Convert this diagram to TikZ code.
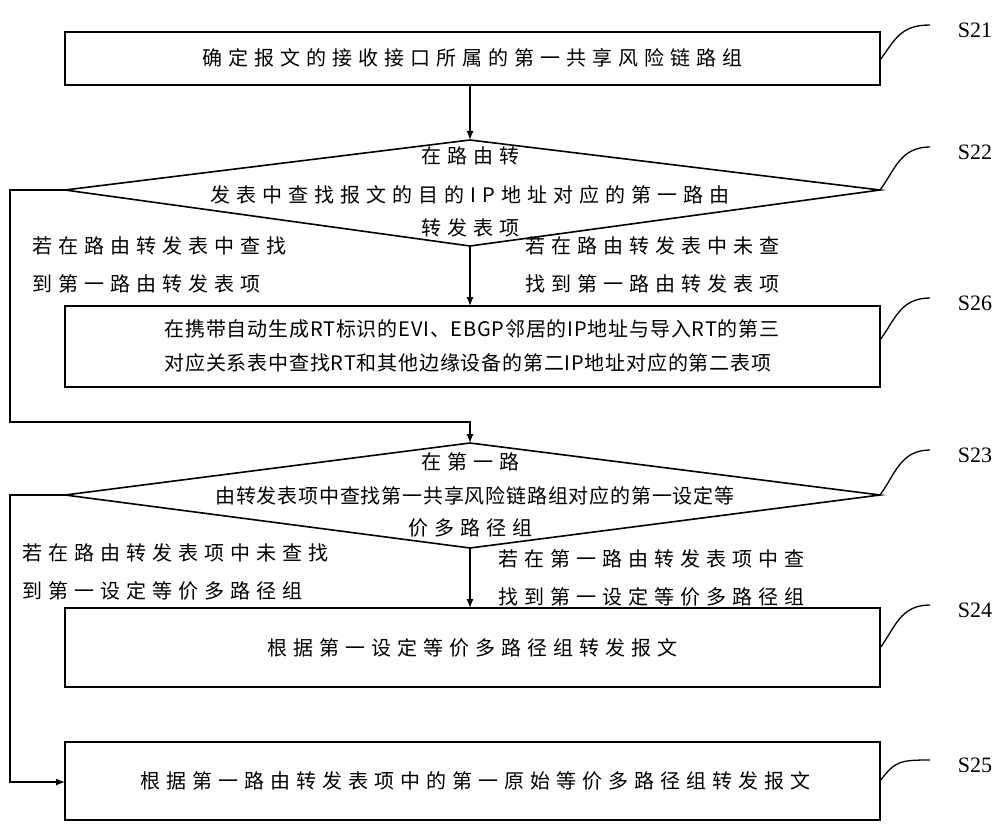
\documentclass[tikz,border=0pt]{standalone}
\usepackage{fontspec}
\usetikzlibrary{arrows.meta}
\setmainfont{Liberation Serif}
\newfontfamily\cjk[LetterSpace=30]{Noto Sans CJK SC}
\newfontfamily\cjkn[LetterSpace=4]{Noto Sans CJK SC}
\begin{document}
\begin{tikzpicture}[x=1pt,y=-1pt,line width=1.6pt,
  txt/.style={font=\cjk\fontsize{20}{38}\selectfont,inner sep=0pt},
  txtn/.style={font=\cjkn\fontsize{20}{34}\selectfont,inner sep=0pt},
  lab/.style={font=\fontsize{22}{24}\selectfont,inner sep=0pt},
  arr/.style={-{Latex[length=9pt,width=7pt]},line width=1.3pt},
  lead/.style={line width=1.3pt}]
\useasboundingbox (0,0) rectangle (1000,829);
% boxes
\draw (65,32) rectangle (880,85);
\node[txt] (t21) at (472,58) {确定报文的接收接口所属的第一共享风险链路组};
\coordinate (d22t) at (470,140); \coordinate (d22l) at (65,190);
\coordinate (d22r) at (880,190); \coordinate (d22b) at (470,246);
\draw (d22t) -- (d22r) -- (d22b) -- (d22l) -- cycle;
\node[txt] at (470,156) {在路由转};
\node[txt] at (470,195) {发表中查找报文的目的IP地址对应的第一路由};
\node[txt] at (470,228) {转发表项};
\draw (65,306) rectangle (880,387);
\node[txtn,align=left] at (472,346) {在携带自动生成RT标识的EVI、EBGP邻居的IP地址与导入RT的第三\\对应关系表中查找RT和其他边缘设备的第二IP地址对应的第二表项};
\coordinate (d23t) at (470,443); \coordinate (d23l) at (65,495);
\coordinate (d23r) at (880,495); \coordinate (d23b) at (470,548);
\draw (d23t) -- (d23r) -- (d23b) -- (d23l) -- cycle;
\node[txt] at (470,462) {在第一路};
\node[txtn] at (475,496) {由转发表项中查找第一共享风险链路组对应的第一设定等};
\node[txt] at (470,528) {价多路径组};
\draw (65,608) rectangle (880,687);
\node[txt] at (472,648) {根据第一设定等价多路径组转发报文};
\draw (65,742) rectangle (880,820);
\node[txt] at (475,781) {根据第一路由转发表项中的第一原始等价多路径组转发报文};
% branch labels
\node[txt,anchor=west,align=left] at (32,265) {若在路由转发表中查找\\到第一路由转发表项};
\node[txt,anchor=west,align=left] at (525,265) {若在路由转发表中未查\\找到第一路由转发表项};
\node[txt,anchor=west,align=left] at (22,572) {若在路由转发表项中未查找\\到第一设定等价多路径组};
\node[txt,anchor=west,align=left] at (498,578) {若在第一路由转发表项中查\\找到第一设定等价多路径组};
% arrows
\draw[arr] (470,85) -- (d22t);
\draw[arr] (d22b) -- (470,306);
\draw[arr] (d22l) -- (10,190) -- (10,422) -- (470,422) -- (d23t);
\draw[arr] (d23b) -- (470,608);
\draw[arr] (d23l) -- (10,495) -- (10,782) -- (65,782);
% step labels
\foreach \y/\s/\ly in {60/S21/30, 190/S22/152, 340/S26/303, 495/S23/455, 648/S24/610, 781/S25/765}{
  \node[lab] at (975,\ly) {\s};
  \draw[lead] (880,\y) .. controls (895,\y-20) and (900,\ly-5) .. (930,\ly-5);
}
\end{tikzpicture}
\end{document}
